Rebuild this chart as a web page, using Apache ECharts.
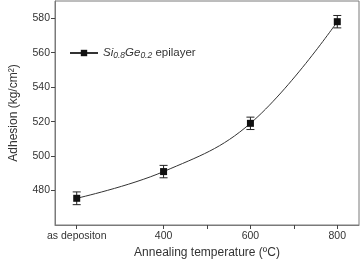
<!DOCTYPE html>
<html lang="en">
<head>
<meta charset="utf-8">
<script src="https://cdn.jsdelivr.net/npm/echarts@6/dist/echarts.min.js"></script>
<style>
  html, body { margin: 0; padding: 0; background: #fff; }
  #chart { width: 364px; height: 264px; }
</style>
</head>
<body>
<div id="chart"></div>
<script>
// annealing temperature (200 = as deposited position)
var temps = [200, 400, 600, 800];
var adhesion = [475.5, 491, 519, 578];
var errs = [3.7, 3.6, 3.6, 3.6];
var tickTemps = [200, 400, 500, 600, 700, 800];
var labelTemps = [200, 400, 600, 800];
var yTicks = [480, 500, 520, 540, 560, 580];

var font = 'Liberation Sans, Arial, sans-serif';
var frame = '#7a7a7a';

var points = temps.map(function (t, i) { return [t, adhesion[i]]; });
var bars = temps.map(function (t, i) { return [t, adhesion[i] - errs[i], adhesion[i] + errs[i]]; });

var chart = echarts.init(document.getElementById('chart'));
chart.setOption({
  animation: false,
  textStyle: { fontFamily: font },
  grid: { left: 49, right: 5, top: 1, bottom: 37, show: true, borderColor: frame, borderWidth: 1 },
  legend: {
    left: 64, top: 42,
    itemWidth: 28, itemHeight: 8, itemGap: 4,
    data: ['Si0.8Ge0.2 epilayer'],
    formatter: function () {
      return '{i|Si}{s|0.8}{i|Ge}{s|0.2}{n| epilayer}';
    },
    textStyle: {
      color: '#333',
      rich: {
        i: { fontStyle: 'italic', fontSize: 11.5, fontFamily: font, color: '#333' },
        s: { fontStyle: 'italic', fontSize: 8.5, fontFamily: font, color: '#333', verticalAlign: 'bottom', padding: [5, 0, 0, 0] },
        n: { fontSize: 11.5, fontFamily: font, color: '#333' }
      }
    }
  },
  xAxis: {
    type: 'value', min: 150, max: 850,
    name: 'Annealing temperature (ºC)', nameLocation: 'middle', nameGap: 22,
    nameTextStyle: { fontSize: 12, color: '#333', fontFamily: font },
    axisLine: { lineStyle: { color: frame } },
    axisTick: { customValues: tickTemps, length: 4, lineStyle: { color: '#444' } },
    axisLabel: {
      customValues: labelTemps, fontSize: 10.5, color: '#333', margin: 6,
      formatter: function (v) { return v === 200 ? 'as depositon' : String(v); }
    },
    splitLine: { show: false }
  },
  yAxis: {
    type: 'value', min: 460, max: 590,
    name: 'Adhesion (kg/cm²)', nameLocation: 'middle', nameGap: 35,
    nameTextStyle: { fontSize: 12, color: '#333', fontFamily: font },
    axisLine: { show: true, lineStyle: { color: frame } },
    axisTick: { customValues: yTicks, length: 4, lineStyle: { color: '#444' } },
    axisLabel: { customValues: yTicks, fontSize: 10.5, color: '#333', margin: 5 },
    splitLine: { show: false }
  },
  series: [
    {
      name: 'Si0.8Ge0.2 epilayer',
      type: 'line',
      smooth: 0.4,
      data: points,
      symbol: 'rect', symbolSize: 7,
      itemStyle: { color: '#111' },
      lineStyle: { color: '#333', width: 1 },
      z: 3
    },
    {
      type: 'custom',
      data: bars,
      renderItem: function (params, api) {
        var x = api.value(0);
        var lo = api.coord([x, api.value(1)]);
        var hi = api.coord([x, api.value(2)]);
        var w = 4;
        var st = { stroke: '#222', lineWidth: 1 };
        return {
          type: 'group',
          children: [
            { type: 'line', shape: { x1: lo[0], y1: lo[1], x2: hi[0], y2: hi[1] }, style: st },
            { type: 'line', shape: { x1: lo[0] - w, y1: lo[1], x2: lo[0] + w, y2: lo[1] }, style: st },
            { type: 'line', shape: { x1: hi[0] - w, y1: hi[1], x2: hi[0] + w, y2: hi[1] }, style: st }
          ]
        };
      },
      z: 2
    }
  ]
});
</script>
</body>
</html>
